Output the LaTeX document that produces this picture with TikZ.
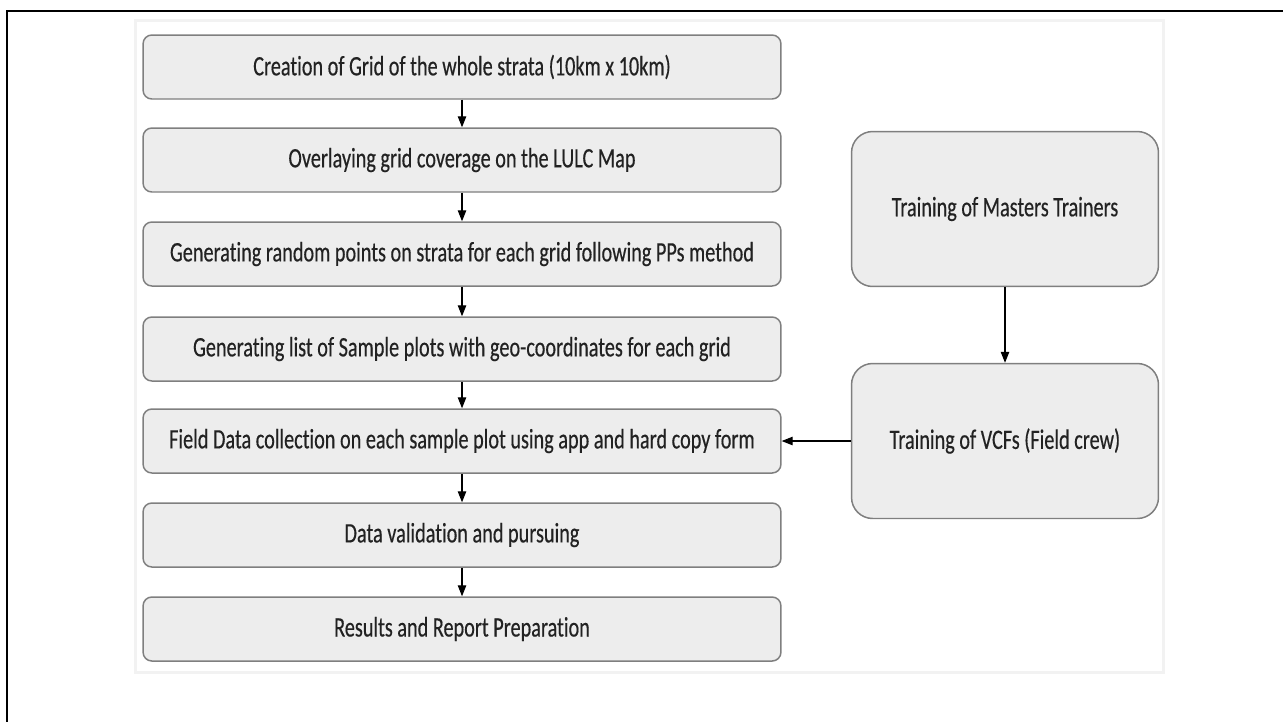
\documentclass[tikz,border=0pt]{standalone}
\usepackage{fontspec}
\setmainfont{Carlito}[FakeStretch=0.72, FakeBold=0.4, Ligatures=NoCommon]
\usetikzlibrary{arrows.meta}
\definecolor{boxfill}{HTML}{EDEDED}
\definecolor{boxline}{HTML}{7F7F7F}
\definecolor{txt}{HTML}{222222}
\tikzset{
  stepbox/.style={draw=boxline, line width=0.85pt, fill=boxfill, rounded corners=5pt,
    minimum width=12.76cm, minimum height=1.28cm, text=txt,
    font=\fontsize{16}{18}\selectfont, inner sep=0pt},
  trainbox/.style={stepbox, rounded corners=12pt, minimum width=6.14cm, minimum height=3.1cm},
  flow/.style={-{Triangle[length=0.22cm,width=0.17cm]}, line width=0.6pt}
}
\begin{document}
\begin{tikzpicture}[x=0.02cm, y=-0.02cm]
    \useasboundingbox (0,0) rectangle (1283,721);
    \draw[line width=1.1pt] (7,11) rectangle (1300,740);
    \draw[draw=black!5, line width=0.06cm] (135,20) rectangle (1163,672);
    % main steps
    \node[stepbox] (grid) at (462,67) {Creation of Grid of the whole strata (10km x 10km)};
    \node[stepbox] (overlay) at (462,160) {Overlaying grid coverage on the LULC Map};
    \node[stepbox] (points) at (462,254) {Generating random points on strata for each grid following PPs method};
    \node[stepbox] (plots) at (462,349) {Generating list of Sample plots with geo-coordinates for each grid};
    \node[stepbox] (field) at (462,441) {Field Data collection on each sample plot using app and hard copy form};
    \node[stepbox] (valid) at (462,535) {Data validation and pursuing};
    \node[stepbox] (report) at (462,629) {Results and Report Preparation};
    % training
    \node[trainbox] (masters) at (1005,209) {Training of Masters Trainers};
    \node[trainbox] (vcf) at (1005,441) {Training of VCFs (Field crew)};
    \draw[flow] (grid) -- (overlay);
    \draw[flow] (overlay) -- (points);
    \draw[flow] (points) -- (plots);
    \draw[flow] (plots) -- (field);
    \draw[flow] (field) -- (valid);
    \draw[flow] (valid) -- (report);
    \draw[flow] (masters) -- (vcf);
    \draw[flow] (vcf) -- (field);
\end{tikzpicture}
\end{document}
